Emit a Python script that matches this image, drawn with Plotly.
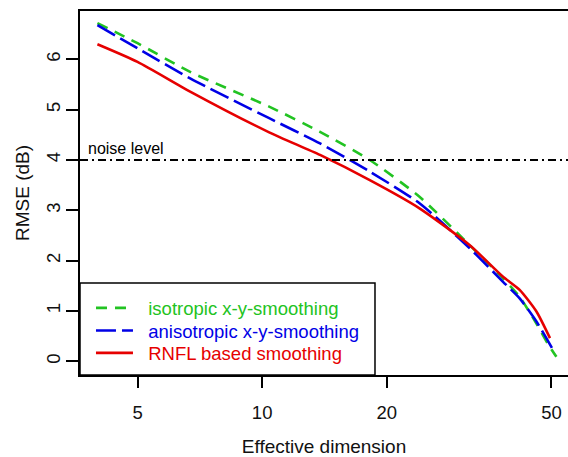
import plotly.graph_objects as go

# Effective dimension (x) and RMSE in dB (y)
iso_x = [4.0, 5.0, 6.7, 10.4, 13.8, 18.2, 24.0, 31.7, 38.2, 41.9, 46.0, 49.0, 51.4]
iso_y = [6.72, 6.32, 5.75, 5.06, 4.56, 4.00, 3.27, 2.31, 1.65, 1.28, 0.75, 0.35, 0.09]

aniso_x = [4.0, 5.0, 6.7, 10.4, 13.8, 18.2, 24.0, 31.7, 38.2, 41.9, 46.0, 50.5]
aniso_y = [6.68, 6.22, 5.62, 4.83, 4.33, 3.77, 3.14, 2.25, 1.58, 1.25, 0.79, 0.22]

rnfl_x = [4.0, 5.0, 6.7, 10.4, 13.8, 18.2, 24.0, 31.7, 38.2, 41.9, 46.0, 49.6]
rnfl_y = [6.30, 5.95, 5.36, 4.55, 4.10, 3.60, 3.04, 2.31, 1.68, 1.42, 0.99, 0.46]

noise_level = 4
x_ticks = [5, 10, 20, 50]
y_ticks = [0, 1, 2, 3, 4, 5, 6]

GREEN = "#22c322"
BLUE = "#0000e6"
RED = "#e60000"
FONT = "Liberation Sans, Arial, sans-serif"
PAD = "&nbsp;&nbsp;"

fig = go.Figure()
fig.add_trace(go.Scatter(
    x=iso_x, y=iso_y, mode="lines", line_shape="spline", legend="legend",
    line=dict(color=GREEN, width=2.6, dash="11px,8px", smoothing=0.6),
    name=f"{PAD}<span style='color:{GREEN}'>isotropic x-y-smoothing</span>"))
fig.add_trace(go.Scatter(
    x=aniso_x, y=aniso_y, mode="lines", line_shape="spline", legend="legend2",
    line=dict(color=BLUE, width=2.6, dash="20px,6px", smoothing=0.6),
    name=f"{PAD}<span style='color:{BLUE}'>anisotropic x-y-smoothing</span>"))
fig.add_trace(go.Scatter(
    x=rnfl_x, y=rnfl_y, mode="lines", line_shape="spline", legend="legend3",
    line=dict(color=RED, width=2.6, smoothing=0.6),
    name=f"{PAD}<span style='color:{RED}'>RNFL based smoothing</span>"))

# noise level reference line
fig.add_shape(type="line", xref="paper", x0=0, x1=1, yref="y", y0=noise_level, y1=noise_level,
              line=dict(color="black", width=2, dash="8px,4px,2px,4px"))
fig.add_annotation(xref="paper", x=0, xshift=6, yref="y", y=noise_level, yshift=1,
                   text="noise level", showarrow=False, xanchor="left", yanchor="bottom",
                   font=dict(family=FONT, size=16, color="black"))

# legend box
fig.add_shape(type="rect", xref="paper", yref="paper", x0=0, x1=0.6045, y0=0, y1=0.2527,
              line=dict(color="black", width=1.5), fillcolor="rgba(0,0,0,0)", layer="above")

leg_common = dict(x=0.0225, xanchor="left", yanchor="middle",
                  bgcolor="rgba(0,0,0,0)", borderwidth=0,
                  font=dict(family=FONT, size=18.5), itemwidth=37)

fig.update_layout(
    width=568, height=457,
    margin=dict(l=80, r=0, t=11, b=82, autoexpand=False),
    paper_bgcolor="white", plot_bgcolor="white",
    font=dict(family=FONT, size=18.5, color="#111111"),
    showlegend=True,
    legend=dict(y=0.1832, **leg_common),
    legend2=dict(y=0.1209, **leg_common),
    legend3=dict(y=0.0596, **leg_common),
    xaxis=dict(type="log", range=[0.560, 1.739], automargin=False,
               tickvals=x_ticks, ticktext=[str(v) for v in x_ticks],
               showgrid=False, zeroline=False,
               showline=True, linecolor="black", linewidth=2, mirror=True,
               ticks="outside", ticklen=11, tickwidth=1.5, tickcolor="black",
               ticklabelstandoff=9,
               title=dict(text="Effective dimension", font=dict(size=19), standoff=19)),
    yaxis=dict(range=[-0.272, 6.96], tickvals=y_ticks, automargin=False,
               showgrid=False, zeroline=False,
               showline=True, linecolor="black", linewidth=2, mirror=False,
               ticks="outside", ticklen=12, tickwidth=1.5, tickcolor="black",
               tickangle=-90, ticklabelstandoff=-1,
               title=dict(text="RMSE (dB)", font=dict(size=19), standoff=8)),
)

fig.write_html("out.html", config={"displayModeBar": False},
               post_script="document.body.style.margin='0';document.body.style.overflow='hidden';")
